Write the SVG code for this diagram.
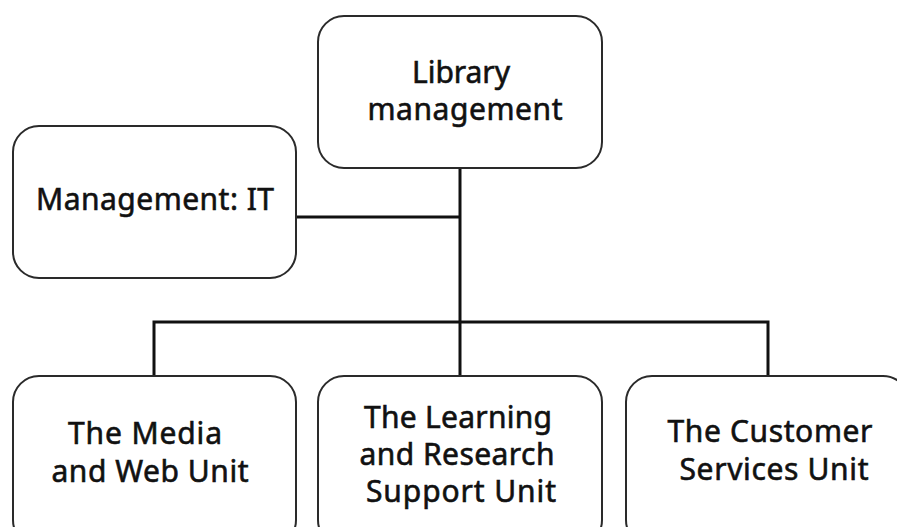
<svg xmlns="http://www.w3.org/2000/svg" width="897" height="527" viewBox="0 0 897 527">
<style>
.box{fill:#fff;stroke:#2a2a2a;stroke-width:2}
.lbl{font-family:"Noto Sans","Open Sans",sans-serif;font-size:30px;fill:#111;stroke:#111;stroke-width:0.6;text-anchor:middle}
.con{fill:none;stroke:#111;stroke-width:3}
</style>
<rect width="897" height="527" fill="#fff"/>
<g id="connectors">
<path class="con" d="M460 168V376"/>
<path class="con" d="M296 217H460"/>
<path class="con" d="M154 376V322H768V376"/>
</g>
<g id="library-management">
<rect class="box" x="318" y="16" width="284" height="152" rx="26"/>
<text class="lbl" x="461" y="83" textLength="98">Library</text>
<text class="lbl" x="465" y="120" textLength="195">management</text>
</g>
<g id="management-it">
<rect class="box" x="13" y="126" width="283" height="152" rx="26"/>
<text class="lbl" x="155" y="210" textLength="238">Management: IT</text>
</g>
<g id="media-web">
<rect class="box" x="13" y="376" width="283" height="170" rx="26"/>
<text class="lbl" x="145" y="444" textLength="154">The Media</text>
<text class="lbl" x="150" y="482" textLength="197">and Web Unit</text>
</g>
<g id="learning-research">
<rect class="box" x="318" y="376" width="284" height="170" rx="26"/>
<text class="lbl" x="458" y="428" textLength="188">The Learning</text>
<text class="lbl" x="457" y="465" textLength="195">and Research</text>
<text class="lbl" x="461" y="502" textLength="190">Support Unit</text>
</g>
<g id="customer-services">
<rect class="box" x="626" y="376" width="283" height="170" rx="26"/>
<text class="lbl" x="770" y="442" textLength="205">The Customer</text>
<text class="lbl" x="774" y="480" textLength="189">Services Unit</text>
</g>
</svg>
